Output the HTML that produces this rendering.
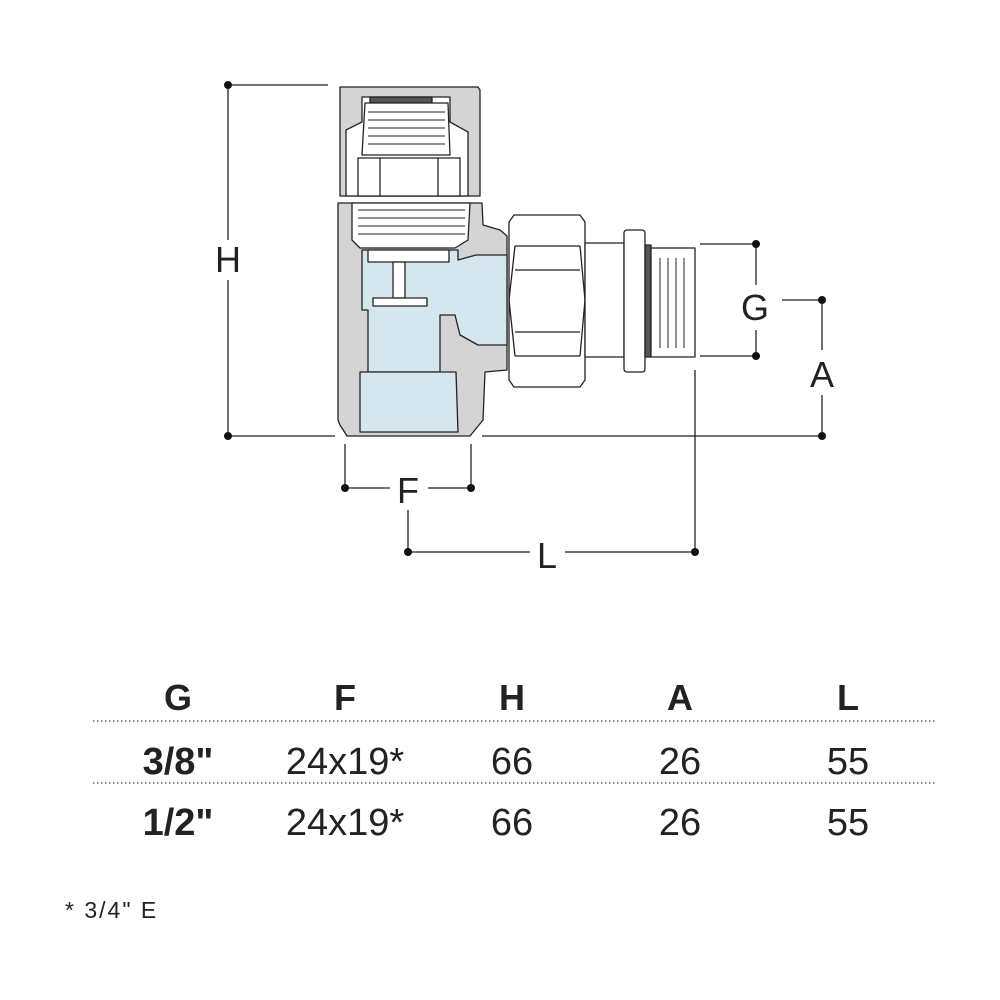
<!DOCTYPE html>
<html><head><meta charset="utf-8"><style>html,body{margin:0;padding:0;background:#fff}svg{display:block}</style></head>
<body>
<svg width="1000" height="1000" viewBox="0 0 1000 1000" xmlns="http://www.w3.org/2000/svg" font-family="Liberation Sans, sans-serif">
<g stroke="#222" stroke-width="1.3" fill="none">
<line x1="228" y1="85" x2="228" y2="240"/><line x1="228" y1="280" x2="228" y2="436"/>
<line x1="228" y1="85" x2="328" y2="85"/>
<line x1="228" y1="436" x2="335" y2="436"/><line x1="482" y1="436" x2="822" y2="436"/>
<line x1="700" y1="244" x2="756" y2="244"/><line x1="700" y1="356" x2="756" y2="356"/>
<line x1="756" y1="244" x2="756" y2="285"/><line x1="756" y1="330" x2="756" y2="356"/>
<line x1="782" y1="300" x2="822" y2="300"/><line x1="822" y1="300" x2="822" y2="350"/><line x1="822" y1="395" x2="822" y2="436"/>
<line x1="345" y1="444" x2="345" y2="488"/><line x1="471" y1="444" x2="471" y2="488"/>
<line x1="345" y1="488" x2="390" y2="488"/><line x1="428" y1="488" x2="471" y2="488"/>
<line x1="408" y1="510" x2="408" y2="552"/><line x1="695" y1="370" x2="695" y2="552"/>
<line x1="408" y1="552" x2="530" y2="552"/><line x1="565" y1="552" x2="695" y2="552"/>
</g>
<g fill="#111">
<circle cx="228" cy="85" r="4"/><circle cx="228" cy="436" r="4"/><circle cx="822" cy="436" r="4"/>
<circle cx="756" cy="244" r="4"/><circle cx="756" cy="356" r="4"/><circle cx="822" cy="300" r="4"/>
<circle cx="345" cy="488" r="4"/><circle cx="471" cy="488" r="4"/><circle cx="408" cy="552" r="4"/><circle cx="695" cy="552" r="4"/>
</g>
<g font-size="36" fill="#222" text-anchor="middle">
<text x="228" y="272">H</text><text x="755" y="320">G</text><text x="822" y="387">A</text>
<text x="408" y="503">F</text><text x="547" y="568">L</text>
</g>
<g stroke="#222" stroke-width="1.3" stroke-linejoin="round">
<path d="M340,87 L478,87 L480,90 L480,196 L340,196 Z" fill="#d4d4d4"/>
<path d="M346,130 L362,122 L362,97 L450,97 L450,122 L468,132 L468,196 L346,196 Z" fill="#fff"/>
<rect x="370" y="97" width="62" height="6" fill="#555"/>
<path d="M365,103 L448,103 L450,155 L362,155 Z" fill="#fff"/>
<g stroke-width="1"><line x1="368" y1="112" x2="445" y2="112"/><line x1="368" y1="120" x2="445" y2="120"/><line x1="368" y1="128" x2="445" y2="128"/><line x1="368" y1="136" x2="445" y2="136"/><line x1="368" y1="144" x2="445" y2="144"/></g>
<path d="M358,158 L460,158 L460,196 L358,196 Z" fill="#fff"/>
<line x1="380" y1="158" x2="380" y2="196"/><line x1="438" y1="158" x2="438" y2="196"/>
<path d="M338,203 L482,203 L483,225 L500,230 L507,236 L507,370 L485,372 L483,420 L470,436 L347,436 L340,425 L338,420 Z" fill="#d4d4d4"/>
<path d="M362,250 L458,250 L458,260 L476,255 L507,255 L507,345 L478,345 L460,335 L455,315 L440,315 L440,372 L368,372 L368,310 L362,310 Z" fill="#d6e6ee"/>
<path d="M360,372 L456,372 L458,432 L360,432 Z" fill="#d6e6ee"/>
<path d="M352,203 L470,203 L468,240 L455,248 L360,248 L352,240 Z" fill="#fff"/>
<g stroke-width="1"><line x1="358" y1="210" x2="465" y2="210"/><line x1="358" y1="218" x2="465" y2="218"/><line x1="358" y1="226" x2="465" y2="226"/><line x1="358" y1="234" x2="465" y2="234"/></g>
<path d="M368,250 L449,250 L449,262 L368,262 Z" fill="#fff"/>
<rect x="393" y="262" width="12" height="36" fill="#fff"/>
<rect x="373" y="298" width="54" height="8" fill="#fff"/>
<path d="M514,215 L580,215 L585,222 L585,380 L580,387 L514,387 L509,380 L509,222 Z" fill="#fff"/>
<path d="M515,246 L580,246 M515,270 L580,270 M515,332 L580,332 M515,356 L580,356" fill="none"/>
<path d="M515,246 L509,300 L515,356 M580,246 L585,300 L580,356" fill="none"/>
<rect x="585" y="243" width="39" height="114" fill="#fff"/>
<rect x="624" y="230" width="21" height="142" rx="3" fill="#fff"/>
<rect x="645" y="245" width="6" height="112" fill="#555"/>
<path d="M651,248 L695,248 L695,357 L651,357 Z" fill="#fff"/>
<g stroke-width="1"><line x1="660" y1="258" x2="660" y2="348"/><line x1="668" y1="258" x2="668" y2="348"/><line x1="676" y1="258" x2="676" y2="348"/><line x1="684" y1="258" x2="684" y2="348"/></g>
</g>
<g text-anchor="middle" fill="#222">
<g font-size="36" font-weight="bold"><text x="178" y="710">G</text><text x="345" y="710">F</text><text x="512" y="710">H</text><text x="680" y="710">A</text><text x="848" y="710">L</text></g>
<g font-size="38"><text x="178" y="774" font-weight="bold">3/8"</text><text x="345" y="774">24x19*</text><text x="512" y="774">66</text><text x="680" y="774">26</text><text x="848" y="774">55</text>
<text x="178" y="835" font-weight="bold">1/2"</text><text x="345" y="835">24x19*</text><text x="512" y="835">66</text><text x="680" y="835">26</text><text x="848" y="835">55</text></g>
</g>
<g stroke="#666" stroke-width="1.5" stroke-dasharray="1.5 2.5"><line x1="93" y1="721" x2="935" y2="721"/><line x1="93" y1="783" x2="935" y2="783"/></g>
<text x="65" y="918" font-size="23" letter-spacing="2" fill="#222">* 3/4" E</text>
</svg>
</body></html>
